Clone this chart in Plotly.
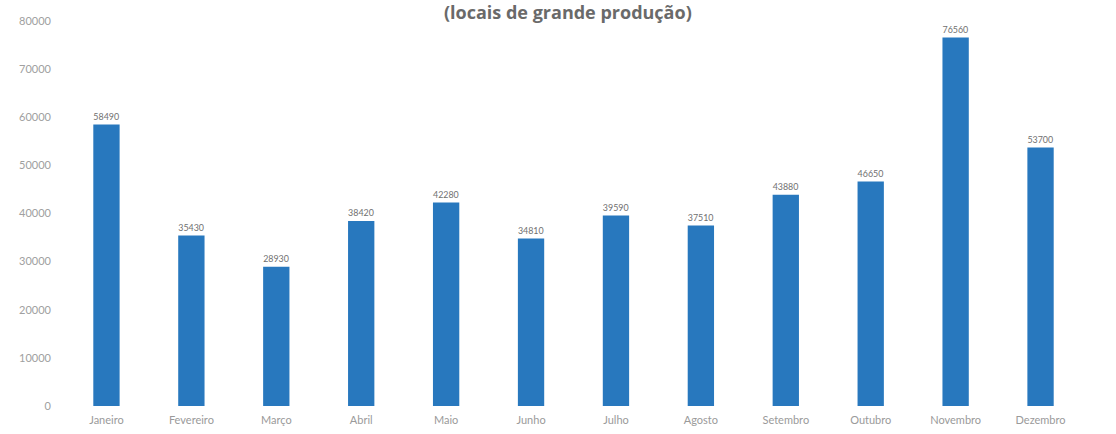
import plotly.graph_objects as go

months = ["Janeiro", "Fevereiro", "Março", "Abril", "Maio", "Junho",
          "Julho", "Agosto", "Setembro", "Outubro", "Novembro", "Dezembro"]
production = [58490, 35430, 28930, 38420, 42280, 34810,
              39590, 37510, 43880, 46650, 76560, 53700]
y_ticks = [0, 10000, 20000, 30000, 40000, 50000, 60000, 70000, 80000]
title_text = "(locais de grande produção)"

bar_color = "#2878be"
font_family = "Lato, 'Open Sans', sans-serif"

fig = go.Figure(
    go.Bar(
        x=months,
        y=production,
        marker=dict(color=bar_color, line=dict(width=0)),
        text=[str(v) for v in production],
        textposition="outside",
        textfont=dict(family=font_family, size=11, color="#707070"),
        cliponaxis=False,
    )
)

fig.update_layout(
    width=1116,
    height=434,
    margin=dict(l=64, r=33, t=21, b=28, autoexpand=False),
    paper_bgcolor="white",
    plot_bgcolor="white",
    bargap=0.69,
    showlegend=False,
    font=dict(family=font_family, color="#999999"),
    annotations=[
        dict(
            text=title_text,
            xref="paper", yref="paper",
            x=0.495, y=1.0, yshift=9,
            xanchor="center", yanchor="middle",
            showarrow=False,
            font=dict(family="'Open Sans', sans-serif", size=18,
                      color="#6a6a6a", weight="bold"),
        )
    ],
)

fig.update_xaxes(
    showgrid=False,
    showline=False,
    ticks="",
    automargin=False,
    ticklabelstandoff=6,
    tickfont=dict(family=font_family, size=11, color="#9a9a9a"),
)
fig.update_yaxes(
    range=[0, 80000],
    tickvals=y_ticks,
    ticktext=[str(v) for v in y_ticks],
    showgrid=False,
    zeroline=False,
    showline=False,
    ticks="",
    automargin=False,
    ticklabelstandoff=12,
    tickfont=dict(family=font_family, size=11, color="#a0a0a0"),
)

fig.write_html("out.html")
